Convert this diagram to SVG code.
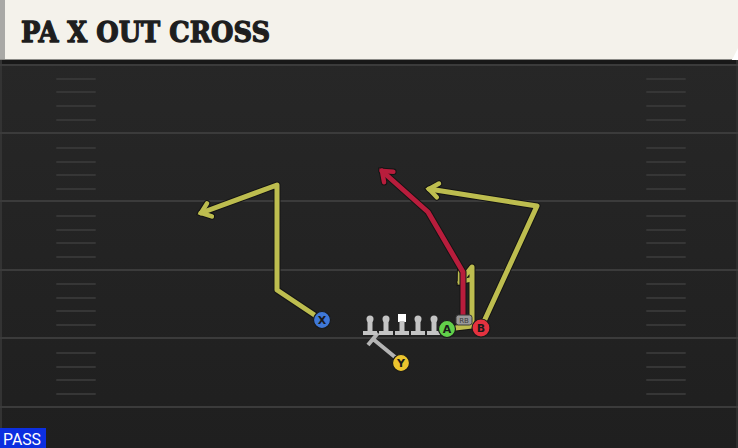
<svg xmlns="http://www.w3.org/2000/svg" width="738" height="448" viewBox="0 0 738 448">
<defs>
<style>
.yl{stroke:#3b3b3b;stroke-width:2;fill:none}
.hm{stroke:#363636;stroke-width:2;stroke-linecap:round}
.out{fill:none;stroke:#141414;stroke-width:7;stroke-linejoin:round;stroke-linecap:round}
.ry{fill:none;stroke:#bdbd4f;stroke-width:5;stroke-linejoin:round;stroke-linecap:round}
.rr{fill:none;stroke:#b81d3c;stroke-width:5;stroke-linejoin:round;stroke-linecap:round}
.blk{fill:none;stroke:#b4b4b4;stroke-width:4;stroke-linecap:butt}
.lm{fill:#c4c4c4}
.lt{font-family:"DejaVu Sans","Liberation Sans",sans-serif;font-weight:bold;font-size:11px;fill:#1a1a1a;text-anchor:middle}
.pc{stroke:#1a1a1a;stroke-width:1.2}
</style>
<linearGradient id="fg" x1="0" y1="0" x2="0" y2="1">
<stop offset="0" stop-color="#272727"/>
<stop offset="1" stop-color="#1f1f1f"/>
</linearGradient>
<marker id="ay" markerUnits="userSpaceOnUse" markerWidth="30" markerHeight="30" refX="0" refY="0" orient="auto" overflow="visible" viewBox="-15 -15 30 30">
<path d="M-9,-7 L0,0 L-9,7" fill="none" stroke="#bdbd4f" stroke-width="4.5" stroke-linejoin="miter" stroke-linecap="round"/>
</marker>
<marker id="ao" markerUnits="userSpaceOnUse" markerWidth="30" markerHeight="30" refX="0" refY="0" orient="auto" overflow="visible" viewBox="-15 -15 30 30">
<path d="M-9,-7 L0,0 L-9,7" fill="none" stroke="#141414" stroke-width="6.5" stroke-linejoin="miter" stroke-linecap="round"/>
</marker>
<marker id="ar" markerUnits="userSpaceOnUse" markerWidth="30" markerHeight="30" refX="0" refY="0" orient="auto" overflow="visible" viewBox="-15 -15 30 30">
<path d="M-9,-7 L0,0 L-9,7" fill="none" stroke="#b81d3c" stroke-width="4.5" stroke-linejoin="miter" stroke-linecap="round"/>
</marker>
</defs>

<!-- field -->
<rect x="0" y="60" width="738" height="388" fill="url(#fg)"/>
<rect x="0" y="60" width="738" height="4" fill="#181818"/>
<rect x="0" y="60" width="2" height="388" fill="#333"/>
<rect x="736" y="60" width="2" height="388" fill="#2e2e2e"/>
<g id="yardlines">
<line class="yl" x1="0" y1="65" x2="738" y2="65"/>
<line class="yl" x1="0" y1="133" x2="738" y2="133"/>
<line class="yl" x1="0" y1="201" x2="738" y2="201"/>
<line class="yl" x1="0" y1="270" x2="738" y2="270"/>
<line class="yl" x1="0" y1="338" x2="738" y2="338"/>
<line class="yl" x1="0" y1="407" x2="738" y2="407"/>
</g>
<g id="hashes">
<path class="hm" d="M57,79H95M57,92H95M57,106H95M57,120H95M57,148H95M57,162H95M57,175H95M57,189H95M57,216H95M57,230H95M57,243H95M57,257H95M57,284H95M57,298H95M57,311H95M57,325H95M57,353H95M57,367H95M57,380H95M57,394H95"/>
<path class="hm" d="M647,79H685M647,92H685M647,106H685M647,120H685M647,148H685M647,162H685M647,175H685M647,189H685M647,216H685M647,230H685M647,243H685M647,257H685M647,284H685M647,298H685M647,311H685M647,325H685M647,353H685M647,367H685M647,380H685M647,394H685"/>
</g>

<!-- header -->
<g id="header">
<path d="M0,0 H738 V48 L732,60 H0 Z" fill="#f4f2eb"/>
<rect x="0" y="0" width="5" height="60" fill="#a9a9a6"/>
<line x1="0" y1="59.5" x2="732" y2="59.5" stroke="#8a8a86" stroke-width="1"/>
<text x="21" y="42" font-family="'DejaVu Serif','Liberation Serif',serif" font-weight="bold" font-size="28" fill="#1e1e1e" stroke="#1e1e1e" stroke-width="1.3" stroke-linejoin="round" textLength="249" lengthAdjust="spacingAndGlyphs">PA X OUT CROSS</text>
</g>

<!-- connectors / routes -->
<g id="routes">
<polyline class="out" points="322,320 277,290 277,185 201,213" marker-end="url(#ao)"/>
<polyline class="ry" points="322,320 277,290 277,185 201,213" marker-end="url(#ay)"/>
<polyline class="out" points="481,328 537,206 429,189" marker-end="url(#ao)"/>
<polyline class="ry" points="481,328 537,206 429,189" marker-end="url(#ay)"/>
<polyline class="out" points="447,329 472,326 472,267 460,282" marker-end="url(#ao)"/>
<polyline class="ry" points="447,329 472,326 472,267 460,282" marker-end="url(#ay)"/>
<polyline class="out" points="463,318 463,272 428,212 382,171" marker-end="url(#ao)"/>
<polyline class="rr" points="463,318 463,272 428,212 382,171" marker-end="url(#ar)"/>
<path class="blk" d="M401,362 L373,339 M368,345 L378,333"/>
</g>

<!-- linemen -->
<g id="lt">
<circle cx="370" cy="319" r="3.5" class="lm"/><rect x="367.5" y="320" width="5" height="12" class="lm"/><rect x="363" y="331" width="14" height="4" class="lm"/>
</g>
<g id="lg">
<circle cx="386" cy="319" r="3.5" class="lm"/><rect x="383.5" y="320" width="5" height="12" class="lm"/><rect x="379" y="331" width="14" height="4" class="lm"/>
</g>
<g id="c">
<rect x="398" y="314" width="8" height="8" fill="#ffffff"/><rect x="399.5" y="321" width="5" height="11" class="lm"/><rect x="395" y="331" width="14" height="4" class="lm"/>
</g>
<g id="rg">
<circle cx="418" cy="319" r="3.5" class="lm"/><rect x="415.5" y="320" width="5" height="12" class="lm"/><rect x="411" y="331" width="14" height="4" class="lm"/>
</g>
<g id="rt">
<circle cx="434" cy="319" r="3.5" class="lm"/><rect x="431.5" y="320" width="5" height="12" class="lm"/><rect x="427" y="331" width="14" height="4" class="lm"/>
</g>

<!-- skill players -->
<g id="rb">
<rect x="456" y="315" width="16" height="10" rx="2.5" fill="#9a9a9a" stroke="#3a3a3a" stroke-width="1"/>
<text x="464" y="323" font-family="'DejaVu Sans','Liberation Sans',sans-serif" font-size="7" fill="#3a3a3a" text-anchor="middle">RB</text>
</g>
<g id="pa">
<circle cx="447" cy="329" r="8.5" fill="#62d04a" class="pc"/>
<text x="447" y="333" class="lt">A</text>
</g>
<g id="pb">
<circle cx="481" cy="328" r="9" fill="#e3323f" class="pc"/>
<text x="481" y="332" class="lt">B</text>
</g>
<g id="px">
<circle cx="322" cy="320" r="8.5" fill="#3f78d8" class="pc"/>
<text x="322" y="324" class="lt">X</text>
</g>
<g id="py">
<circle cx="401" cy="363" r="8.5" fill="#ecc52e" class="pc"/>
<text x="401" y="367" class="lt">Y</text>
</g>

<!-- pass tag -->
<g id="pass">
<rect x="0" y="428" width="46" height="20" fill="#0c2fe0"/>
<text x="3" y="445" font-family="Roboto,'Liberation Sans',sans-serif" font-size="16" fill="#ffffff" textLength="38" lengthAdjust="spacingAndGlyphs">PASS</text>
</g>
</svg>
